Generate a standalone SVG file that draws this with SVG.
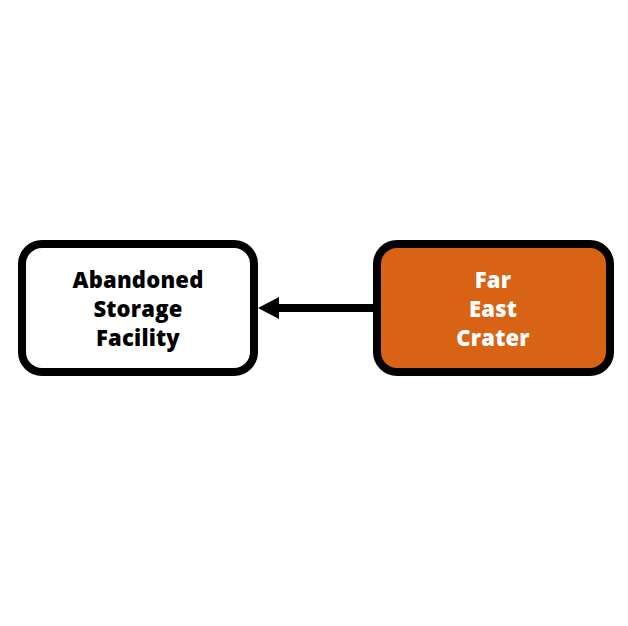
<svg xmlns="http://www.w3.org/2000/svg" width="628" height="626" viewBox="0 0 628 626">
<style>
.box{stroke:#000;stroke-width:8}
.t{font-family:"Open Sans","Noto Sans","DejaVu Sans",sans-serif;font-weight:800;font-size:22px;text-anchor:middle;letter-spacing:0.2px}
</style>
<rect width="628" height="626" fill="#fff"/>
<g id="connectors">
<line x1="373" y1="308" x2="279" y2="308" stroke="#000" stroke-width="8"/>
<path d="M258,308 L279,297 L279,319 Z" fill="#000"/>
</g>
<g id="abandoned-storage-facility">
<rect class="box" x="22" y="244" width="232" height="128" rx="20" fill="#fff"/>
<text class="t" x="138" y="288" fill="#000">Abandoned</text>
<text class="t" x="138" y="317" fill="#000">Storage</text>
<text class="t" x="138" y="346" fill="#000">Facility</text>
</g>
<g id="far-east-crater">
<rect class="box" x="377" y="244" width="233" height="128" rx="20" fill="#D86315"/>
<text class="t" x="493" y="288" fill="#fff">Far</text>
<text class="t" x="493" y="317" fill="#fff">East</text>
<text class="t" x="493" y="346" fill="#fff">Crater</text>
</g>
</svg>
